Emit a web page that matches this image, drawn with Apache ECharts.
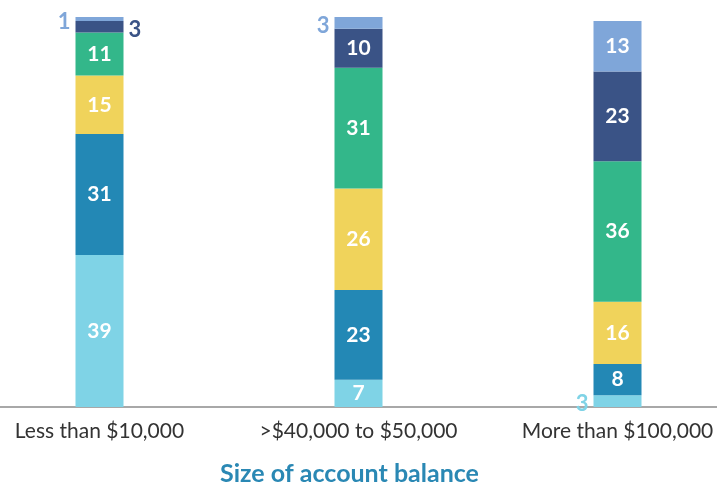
<!DOCTYPE html>
<html>
<head>
<meta charset="UTF-8">
<title>Size of account balance</title>
<script src="https://cdn.jsdelivr.net/npm/echarts@6/dist/echarts.min.js"></script>
<style>
  html, body { margin: 0; padding: 0; background: #fff; }
  #chart { width: 717px; height: 483px; }
</style>
</head>
<body>
<div id="chart"></div>
<script>
var categories = ['Less than $10,000', '>$40,000 to $50,000', 'More than $100,000'];

// stacked from the bottom up
var s1 = [39, 7, 3];
var s2 = [31, 23, 8];
var s3 = [15, 26, 16];
var s4 = [11, 31, 36];
var s5 = [3, 10, 23];
var s6 = [1, 3, 13];

var colors = ['#7fd3e6', '#2388b5', '#f0d35b', '#33b78a', '#3a5386', '#7fa6d9'];
var sideFor = ['left', 'left', 'left', 'left', 'right', 'left'];
var FONT = 'Lato, "Open Sans", sans-serif';

function buildSeries(vals, i) {
  return {
    type: 'bar',
    stack: 'all',
    barWidth: 48,
    itemStyle: { color: colors[i] },
    label: {
      show: true,
      position: 'inside',
      color: '#fff',
      fontWeight: 'bold',
      fontSize: 21,
      fontFamily: FONT
    },
    data: vals.map(function (v) {
      if (v > 3) return v;
      // small slices get their number beside the bar
      return {
        value: v,
        label: { position: sideFor[i], distance: 5, offset: [0, 3], fontSize: 22, color: colors[i] }
      };
    })
  };
}

var myChart = echarts.init(document.getElementById('chart'));
myChart.setOption({
  animation: false,
  grid: { left: -30, right: -30, top: 17, bottom: 76, outerBoundsMode: 'none', containLabel: false },
  xAxis: {
    type: 'category',
    data: categories,
    axisTick: { show: false },
    axisLine: { lineStyle: { color: '#a8a8a8', width: 2 } },
    axisLabel: { color: '#333', fontSize: 21, fontFamily: FONT, margin: 14 },
    name: 'Size of account balance',
    nameLocation: 'middle',
    nameGap: 54,
    nameTextStyle: { color: '#2a88b4', fontSize: 25, fontWeight: 'bold', fontFamily: FONT, padding: [0, 18, 0, 0] }
  },
  yAxis: {
    type: 'value',
    min: 0,
    max: 100,
    show: false
  },
  series: [s1, s2, s3, s4, s5, s6].map(buildSeries)
});
</script>
</body>
</html>
